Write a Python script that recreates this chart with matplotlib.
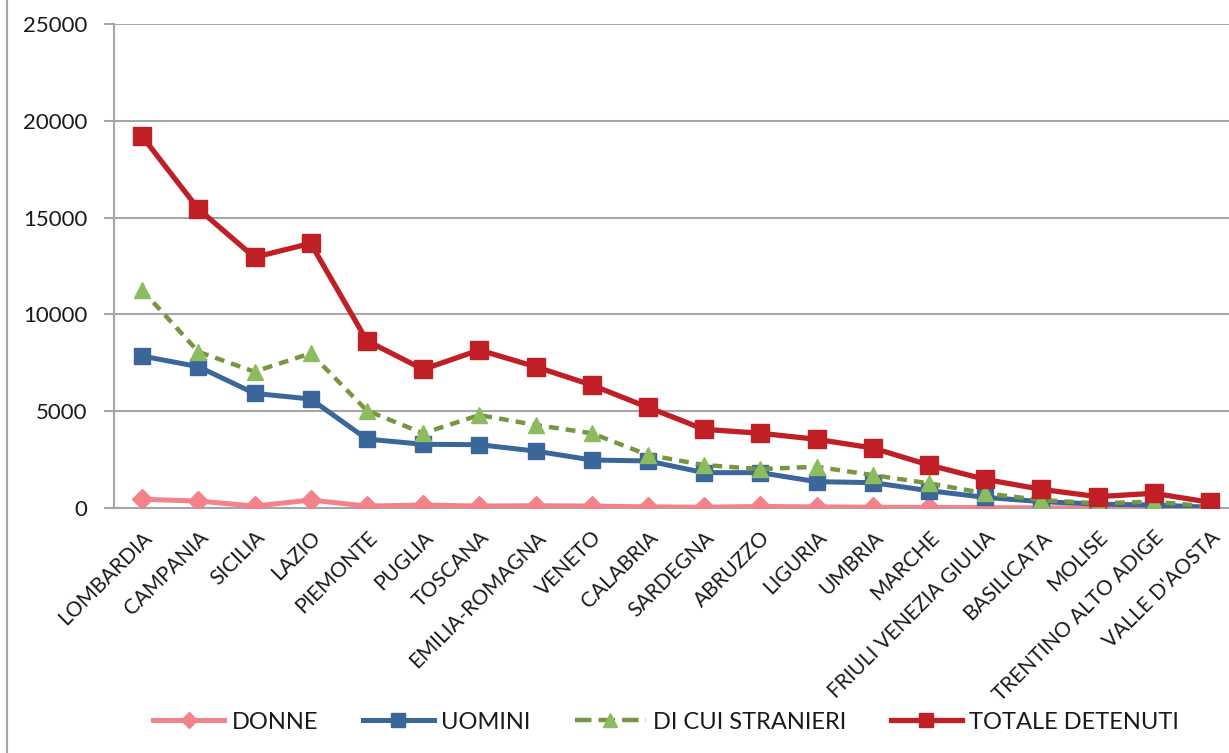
import matplotlib.pyplot as plt
from matplotlib.lines import Line2D

regioni = ['LOMBARDIA', 'CAMPANIA', 'SICILIA', 'LAZIO', 'PIEMONTE', 'PUGLIA',
           'TOSCANA', 'EMILIA-ROMAGNA', 'VENETO', 'CALABRIA', 'SARDEGNA',
           'ABRUZZO', 'LIGURIA', 'UMBRIA', 'MARCHE', 'FRIULI VENEZIA GIULIA',
           'BASILICATA', 'MOLISE', 'TRENTINO ALTO ADIGE', "VALLE D'AOSTA"]

donne = [450, 360, 100, 410, 100, 155, 100, 120, 100, 60, 40, 80, 60, 40,
         30, 20, 10, 5, 15, 5]
uomini = [7850, 7300, 5920, 5630, 3560, 3290, 3270, 2940, 2480, 2430, 1825,
          1825, 1360, 1310, 895, 550, 330, 200, 155, 40]
stranieri = [11260, 8070, 7040, 7990, 5030, 3860, 4800, 4290, 3860, 2740,
             2220, 2010, 2130, 1700, 1275, 760, 410, 240, 330, 70]
totale = [19200, 15450, 12950, 13670, 8640, 7160, 8160, 7300, 6350, 5200,
          4065, 3860, 3550, 3100, 2220, 1480, 965, 585, 760, 295]

plt.rcParams['font.family'] = ['Lato', 'DejaVu Sans']

fig = plt.figure(figsize=(12.29, 7.53), dpi=100)
ax = fig.add_axes([114 / 1229, 245 / 753, 1124 / 1229, 484 / 753])

x = list(range(len(regioni)))
ax.plot(x, donne, color='#F4828A', lw=3.6, marker='D', ms=10,
        label='DONNE', zorder=3)
ax.plot(x, uomini, color='#3A6699', lw=3.6, marker='s', ms=12,
        label='UOMINI', zorder=4)
ax.plot(x, stranieri, color='#77963F', lw=3.2, ls=(0, (2.2, 1.6)),
        marker='^', ms=12, mfc='#8DBC5F', mec='#8DBC5F',
        label='DI CUI STRANIERI', zorder=5)
ax.plot(x, totale, color='#C01F26', lw=3.8, marker='s', ms=13,
        label='TOTALE DETENUTI', zorder=6)

ax.set_xlim(-0.5, len(regioni) - 0.5)
ax.set_ylim(0, 25000)
ax.set_yticks(range(0, 25001, 5000))
ax.yaxis.grid(True, color='#A6A6A6', lw=1.5)
ax.set_axisbelow(True)
for s in ['top', 'right']:
    ax.spines[s].set_visible(False)
ax.spines['left'].set_color('#A6A6A6')
ax.spines['left'].set_linewidth(1.5)
ax.spines['bottom'].set_color('#A6A6A6')
ax.spines['bottom'].set_linewidth(1.5)
ax.tick_params(axis='y', length=7, width=1.5, color='#A6A6A6',
               labelsize=16, labelcolor='#1a1a1a', pad=12)
ax.tick_params(axis='x', length=0, pad=14)
ax.set_xticks(x)
ax.set_xticklabels(regioni, rotation=45, ha='right', va='top',
                   rotation_mode='anchor', fontsize=15, color='#1a1a1a')

handles, labels = ax.get_legend_handles_labels()
handles = [Line2D([], [], color=h.get_color(), lw=h.get_linewidth(),
                  ls=h.get_linestyle(), marker=h.get_marker(),
                  ms=h.get_markersize() * 0.8, mfc=h.get_markerfacecolor(),
                  mec=h.get_markeredgecolor()) for h in handles]
fig.legend(handles, labels, loc='center', bbox_to_anchor=(0.542, 0.041),
           ncol=4, frameon=False, fontsize=17, handlelength=3.0,
           columnspacing=1.9, handletextpad=0.3, labelcolor='#1a1a1a')

fig.add_artist(Line2D([7 / 1229, 7 / 1229], [0, 1], color='#A6A6A6', lw=1.5))

fig.savefig('out.png', dpi=100)
